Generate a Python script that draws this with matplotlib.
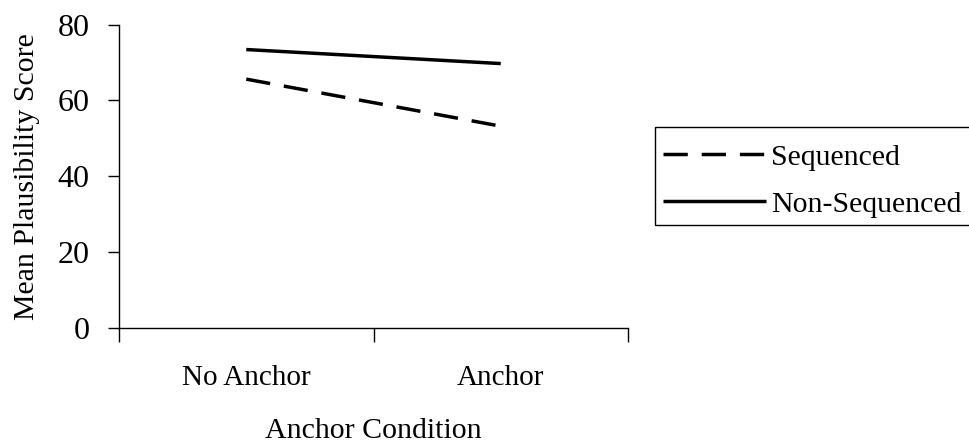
import matplotlib
matplotlib.use("Agg")
import matplotlib.pyplot as plt
from matplotlib.patches import Rectangle

categories = ["No Anchor", "Anchor"]
sequenced = [65.6, 53.2]
non_sequenced = [73.4, 69.7]
y_ticks = [0, 20, 40, 60, 80]

plt.rcParams['font.family'] = ['Liberation Serif', 'DejaVu Serif']
plt.rcParams['lines.scale_dashes'] = False

W, H = 969, 445
fig = plt.figure(figsize=(W / 100, H / 100), dpi=100)
ax = fig.add_axes([119 / W, 1 - 328 / H, (628 - 119) / W, (328 - 24.5) / H])

x = [0.5, 1.5]
l1, = ax.plot(x, sequenced, color='black', lw=2.5, dashes=(17.5, 10),
              dash_capstyle='butt', solid_capstyle='butt', label='Sequenced')
l2, = ax.plot(x, non_sequenced, color='black', lw=2.5,
              solid_capstyle='butt', label='Non-Sequenced')

ax.set_xlim(0, 2)
ax.set_ylim(0, 80)
ax.set_yticks(y_ticks)
ax.set_yticklabels([str(v) for v in y_ticks], fontsize=23)
ax.set_xticks([0, 1, 2])
ax.set_xticklabels([])
ax.set_xticks(x, minor=True)
ax.set_xticklabels(categories, minor=True, fontsize=21)
ax.tick_params(axis='x', which='minor', length=0, pad=26.5)
ax.tick_params(axis='x', which='major', length=10, width=1, direction='out')
ax.tick_params(axis='y', which='major', length=8, width=1, direction='out', pad=13)
for s in ['top', 'right']:
    ax.spines[s].set_visible(False)
for s in ['left', 'bottom']:
    ax.spines[s].set_linewidth(1)

ax.set_ylabel("Mean Plausibility Score", fontsize=21.5, labelpad=13)
ax.set_xlabel("Anchor Condition", fontsize=21.5, labelpad=19.5)

fig.patches.append(Rectangle((655 / W, 1 - 225 / H), 330 / W, 98.5 / H,
                             transform=fig.transFigure, fill=False,
                             edgecolor='black', lw=1))
fig.legend(handles=[l1, l2], loc='upper left',
           bbox_to_anchor=(663 / W, 1 - 144 / H), frameon=False,
           fontsize=21.5, handlelength=3.45, handletextpad=0.17,
           borderpad=0, borderaxespad=0, labelspacing=0.67)

fig.savefig("out.png", dpi=100)
